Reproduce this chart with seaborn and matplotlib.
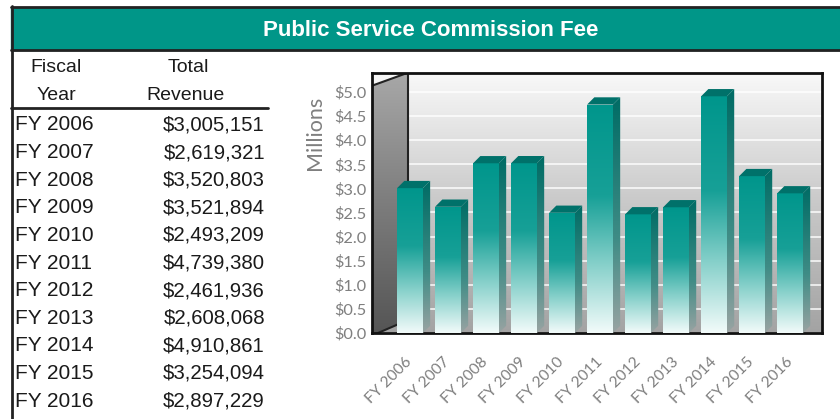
import numpy as np
import matplotlib.pyplot as plt
import seaborn as sns
from matplotlib.colors import LinearSegmentedColormap
from matplotlib.patches import Polygon, Rectangle
from matplotlib.lines import Line2D
from matplotlib.transforms import ScaledTranslation

years = ['FY 2006', 'FY 2007', 'FY 2008', 'FY 2009', 'FY 2010', 'FY 2011',
         'FY 2012', 'FY 2013', 'FY 2014', 'FY 2015', 'FY 2016']
revenue = [3005151, 2619321, 3520803, 3521894, 2493209, 4739380,
           2461936, 2608068, 4910861, 3254094, 2897229]
title = 'Public Service Commission Fee'
col_headers = [('Fiscal', 'Year'), ('Total', 'Revenue')]

W, H = 840, 419
TEAL = '#009688'
GRAY_TXT = '#7f7f7f'


def fx(x):
    return x / W


def fy(y):
    return 1 - y / H


sns.set_theme(style='white')
plt.rcParams['font.family'] = ['Liberation Sans', 'DejaVu Sans']

fig = plt.figure(figsize=(8.4, 4.19), dpi=100)
fig.patch.set_facecolor('white')

# frame + title bar
fig.add_artist(Rectangle((fx(11), fy(50)), fx(840 - 11), 42 / H,
                         transform=fig.transFigure, color=TEAL, zorder=1))
fig.add_artist(Line2D([fx(11), fx(840)], [fy(7), fy(7)], transform=fig.transFigure,
                      color='#222222', lw=2))
fig.add_artist(Line2D([fx(11), fx(840)], [fy(50), fy(50)], transform=fig.transFigure,
                      color='#222222', lw=2))
fig.add_artist(Line2D([fx(11.5), fx(11.5)], [fy(6), 0], transform=fig.transFigure,
                      color='#222222', lw=2))
fig.text(fx(431), fy(30), title, color='white', fontsize=16, fontweight='bold',
         ha='center', va='center')

# table
fig.text(fx(56), fy(68), col_headers[0][0], fontsize=14, ha='center', va='center', color='#1a1a1a')
fig.text(fx(56), fy(95), col_headers[0][1], fontsize=14, ha='center', va='center', color='#1a1a1a')
fig.text(fx(188), fy(68), col_headers[1][0], fontsize=14, ha='center', va='center', color='#1a1a1a')
fig.text(fx(185), fy(95), col_headers[1][1], fontsize=14, ha='center', va='center', color='#1a1a1a')
fig.add_artist(Line2D([fx(11), fx(268)], [fy(108), fy(108)], transform=fig.transFigure,
                      color='#222222', lw=2))
for i, (yr, val) in enumerate(zip(years, revenue)):
    yy = 125 + i * 27.6
    fig.text(fx(15), fy(yy), yr, fontsize=15, ha='left', va='center', color='#1a1a1a')
    fig.text(fx(265), fy(yy), f'${val:,}', fontsize=14.7, ha='right', va='center', color='#1a1a1a')

# chart
ax = fig.add_axes([fx(372), fy(333), fx(822 - 372), (333 - 72.7) / H])
millions = [v / 1e6 for v in revenue]
sns.barplot(x=years, y=millions, color=TEAL, width=0.68, ax=ax, zorder=3)
bars = list(ax.patches)

ymax = 5.4
xlim = (-1.0, 10.84)

# back wall
wall = LinearSegmentedColormap.from_list('wall', ['#a3a3a3', '#c9c9c9', '#f9f9f9'])
grad = np.linspace(0, 1, 256).reshape(-1, 1)
ax.imshow(grad, cmap=wall, extent=(0, 1, 0, 1), transform=ax.transAxes,
          origin='lower', aspect='auto', zorder=0)

# left wall
lw_poly = Polygon([(0, -0.01), (0.08, 0.05), (0.08, 1.0), (0, 0.95)], closed=True,
                  transform=ax.transAxes, facecolor='none', edgecolor='#222222', lw=1.5, zorder=1.5)
ax.add_patch(lw_poly)
lwall = LinearSegmentedColormap.from_list('lwall', ['#555555', '#7d7d7d', '#a8a8a8'])
im = ax.imshow(grad, cmap=lwall, extent=(0, 1, 0, 1), transform=ax.transAxes,
               origin='lower', aspect='auto', zorder=1.2)
im.set_clip_path(lw_poly)

bar_cmap = LinearSegmentedColormap.from_list(
    'bar', [(0, '#f2fbfa'), (0.3, '#86d0ca'), (0.6, '#17a097'), (1, '#00968c')])
side_cmap = LinearSegmentedColormap.from_list(
    'side', [(0, '#98a3a2'), (0.4, '#3f8c86'), (1, '#006c65')])
dx, dy = 0.19, 0.15

for p in bars:
    x, w, h = p.get_x(), p.get_width(), p.get_height()
    p.set_facecolor('none')
    p.set_edgecolor('none')
    im = ax.imshow(grad, cmap=bar_cmap, extent=(x, x + w, 0, h), origin='lower',
                   aspect='auto', zorder=3, interpolation='bicubic')
    im.set_clip_path(p)
    side = Polygon([(x + w, 0), (x + w + dx, dy), (x + w + dx, h + dy), (x + w, h)],
                   closed=True, facecolor='none', edgecolor='none', zorder=2.9)
    ax.add_patch(side)
    im2 = ax.imshow(grad, cmap=side_cmap, extent=(x + w, x + w + dx, 0, h + dy),
                    origin='lower', aspect='auto', zorder=2.9)
    im2.set_clip_path(side)
    top = Polygon([(x, h), (x + w, h), (x + w + dx, h + dy), (x + dx, h + dy)],
                  closed=True, facecolor='#00716a', edgecolor='none', zorder=3.1)
    ax.add_patch(top)

ax.set_xlim(*xlim)
ax.set_ylim(0, ymax)
ax.set_yticks(np.arange(0, 5.01, 0.5))
ax.set_yticklabels([f'${t:.1f}' for t in np.arange(0, 5.01, 0.5)])
ax.set_xticks(range(len(years)))
ax.set_xticklabels(years, rotation=45, ha='right', va='center', rotation_mode='anchor')
ax.grid(axis='y', color='white', lw=1.3, alpha=0.8)
ax.set_axisbelow(True)
for lab in ax.get_xticklabels():
    lab.set_transform(lab.get_transform() + ScaledTranslation(-0.14, 0, fig.dpi_scale_trans))
ax.tick_params(axis='x', length=0, pad=19, labelsize=11.2, labelcolor=GRAY_TXT)
ax.tick_params(axis='y', length=0, pad=4, labelsize=11.8, labelcolor=GRAY_TXT)
for lab in ax.get_xticklabels() + ax.get_yticklabels():
    lab.set_family(['Lato', 'DejaVu Sans'])
for s in ax.spines.values():
    s.set_color('#111111')
    s.set_linewidth(2)
ax.set_xlabel('')
ax.set_ylabel('')

fig.text(fx(315), fy(133), 'Millions', rotation=90, fontsize=15.5, color=GRAY_TXT,
         ha='center', va='center', family=['Lato', 'DejaVu Sans'])

fig.savefig('out.png', dpi=100)
